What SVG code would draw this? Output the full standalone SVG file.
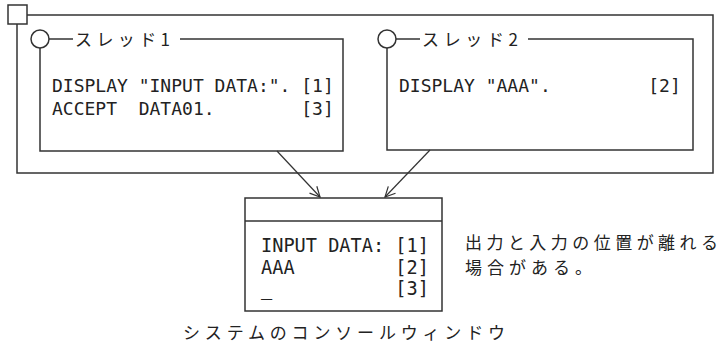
<svg xmlns="http://www.w3.org/2000/svg" width="724" height="346" viewBox="0 0 724 346">
<style>
.ln{fill:none;stroke:#333;stroke-width:1.5}
.bx{fill:#fff;stroke:#333;stroke-width:1.5}
.mono{font-family:"DejaVu Sans Mono","Liberation Mono",monospace;fill:#222}
.jp{font-family:"Noto Sans CJK JP","Noto Sans",sans-serif;fill:#222}
.ar{fill:none;stroke:#333;stroke-width:1.2}
</style>
<defs>
<marker id="arr" viewBox="0 0 12 12" refX="11" refY="6" markerWidth="12" markerHeight="12" markerUnits="userSpaceOnUse" orient="auto">
<path d="M1,1 L11,6 L1,11" fill="none" stroke="#333" stroke-width="1.2"/>
</marker>
</defs>
<rect id="bg" x="0" y="0" width="724" height="346" fill="#fff"/>
<g id="process">
<rect class="ln" x="17" y="15" width="696" height="158"/>
<rect class="bx" x="8" y="5" width="19" height="19"/>
</g>
<g id="thread1">
<path class="ln" d="M40,48 V151 H343 V39 H180"/>
<line class="ln" x1="49" y1="39" x2="73" y2="39"/>
<circle class="bx" cx="40" cy="39" r="9"/>
<text class="jp" x="75" y="46" font-size="17" textLength="95" lengthAdjust="spacing">スレッド1</text>
<text class="mono" font-size="18" xml:space="preserve"><tspan x="52" y="92">DISPLAY "INPUT DATA:". [1]</tspan><tspan x="52" y="115">ACCEPT  DATA01.        [3]</tspan></text>
</g>
<g id="thread2">
<path class="ln" d="M387,48 V150 H693 V39 H528"/>
<line class="ln" x1="396" y1="39" x2="420" y2="39"/>
<circle class="bx" cx="387" cy="39" r="9"/>
<text class="jp" x="422" y="46" font-size="17" textLength="96" lengthAdjust="spacing">スレッド2</text>
<text class="mono" font-size="18" xml:space="preserve" x="399" y="92">DISPLAY "AAA".         [2]</text>
</g>
<g id="connectors">
<line class="ar" x1="277" y1="151" x2="320" y2="197" marker-end="url(#arr)"/>
<line class="ar" x1="430" y1="150" x2="385" y2="197" marker-end="url(#arr)"/>
</g>
<g id="console">
<rect class="bx" x="245" y="198" width="197" height="113"/>
<line class="ln" x1="245" y1="221" x2="442" y2="221"/>
<text class="mono" font-size="18.6" xml:space="preserve"><tspan x="261" y="252">INPUT DATA: [1]</tspan><tspan x="261" y="274">AAA         [2]</tspan><tspan x="261" y="295">_           [3]</tspan></text>
</g>
<g id="note">
<text class="jp" font-size="17"><tspan x="465" y="249" textLength="253" lengthAdjust="spacing">出力と入力の位置が離れる</tspan><tspan x="465" y="274" textLength="127" lengthAdjust="spacing">場合がある。</tspan></text>
</g>
<g id="caption">
<text class="jp" x="183" y="339" font-size="17" textLength="322" lengthAdjust="spacing">システムのコンソールウィンドウ</text>
</g>
</svg>
